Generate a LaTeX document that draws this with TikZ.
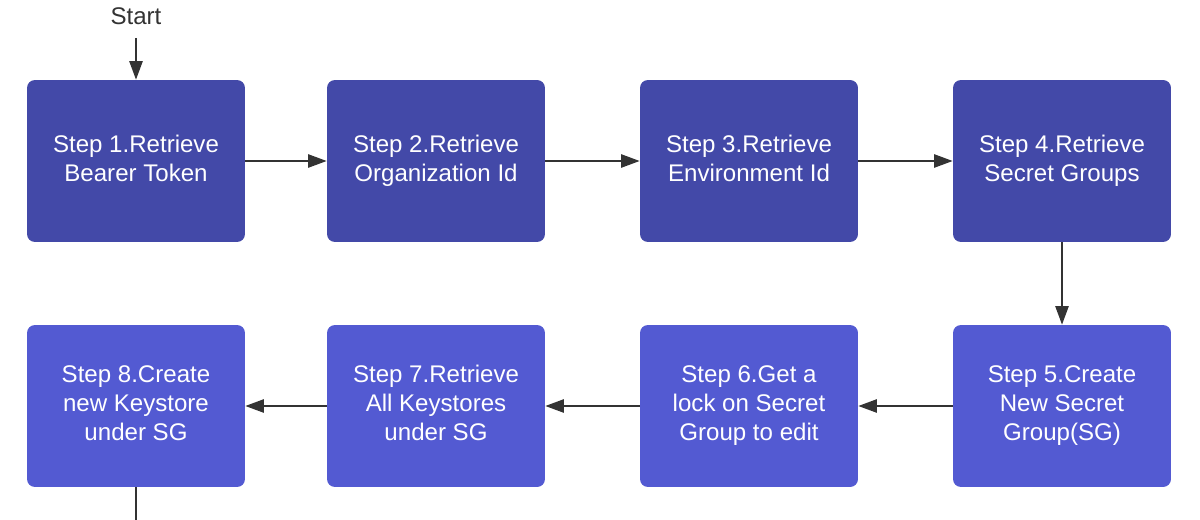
\documentclass[tikz,border=0pt]{standalone}
\usepackage{fontspec}
\setmainfont{Liberation Sans}
\usetikzlibrary{arrows.meta}
\definecolor{topblue}{RGB}{67,73,168}
\definecolor{lowblue}{RGB}{83,90,210}
\definecolor{linegray}{RGB}{51,51,51}
\newcommand{\topgap}{\rule{0pt}{13.3pt}}
\newcommand{\botgap}{\rule[-3.3pt]{0pt}{3.3pt}}
\begin{document}
\begin{tikzpicture}[x = 0.02cm, y = -0.02cm]
    \tikzstyle{stepbox} = [rectangle, rounded corners = 4.5pt, minimum width = 4.36cm, minimum height = 3.24cm, text = white, align = center, font = \fontsize{13.7}{16.6}\selectfont, inner sep = 0pt, execute at begin node = \topgap, execute at end node = \botgap];
    \tikzstyle{flow} = [draw = linegray, line width = 1pt, -{Triangle[length = 10.5pt, width = 7.5pt]}];
    \useasboundingbox (0,0) rectangle (1200,520);
    \node (start) at (136,16) {\fontsize{13.7}{16.6}\selectfont\textcolor{linegray}{Start}};
    \node[stepbox, fill = topblue] (s1) at (136,161) {Step 1.Retrieve\\Bearer Token};
    \node[stepbox, fill = topblue] (s2) at (436,161) {Step 2.Retrieve\\Organization Id};
    \node[stepbox, fill = topblue] (s3) at (749,161) {Step 3.Retrieve\\Environment Id};
    \node[stepbox, fill = topblue] (s4) at (1062,161) {Step 4.Retrieve\\Secret Groups};
    \node[stepbox, fill = lowblue] (s5) at (1062,406) {Step 5.Create\\New Secret\\Group(SG)};
    \node[stepbox, fill = lowblue] (s6) at (749,406) {Step 6.Get a\\lock on Secret\\Group to edit};
    \node[stepbox, fill = lowblue] (s7) at (436,406) {Step 7.Retrieve\\All Keystores\\under SG};
    \node[stepbox, fill = lowblue] (s8) at (136,406) {Step 8.Create\\new Keystore\\under SG};
    \coordinate (top) at (136,38);
    \coordinate (bottom) at (136,520);
    \draw[flow] (top) -- (s1);
    \draw[flow] (s1) -- (s2);
    \draw[flow] (s2) -- (s3);
    \draw[flow] (s3) -- (s4);
    \draw[flow] (s4) -- (s5);
    \draw[flow] (s5) -- (s6);
    \draw[flow] (s6) -- (s7);
    \draw[flow] (s7) -- (s8);
    \draw[draw = linegray, line width = 1pt] (s8) -- (bottom);
\end{tikzpicture}
\end{document}
